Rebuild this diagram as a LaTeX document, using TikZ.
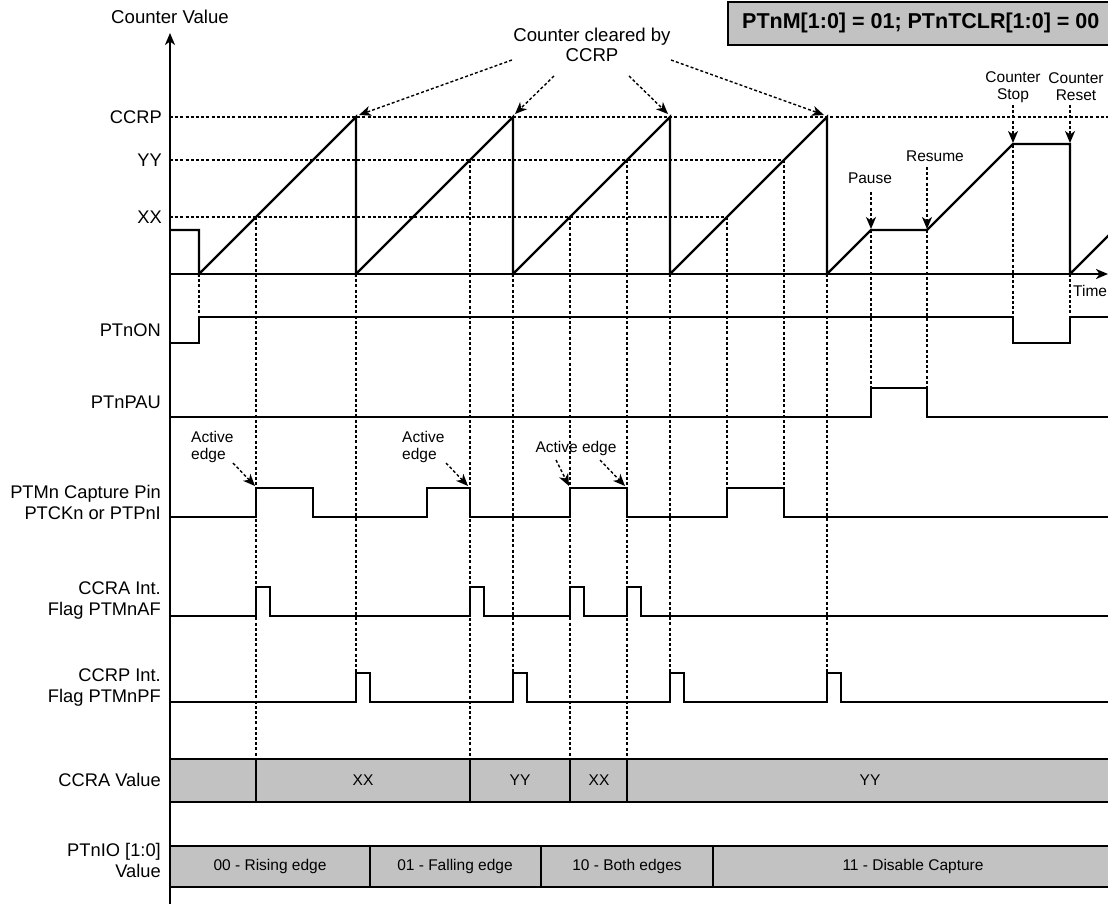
\documentclass[tikz,border=0pt]{standalone}
\usepackage{fontspec}
\setmainfont{Liberation Sans}
\usetikzlibrary{arrows.meta}
\definecolor{boxgray}{RGB}{194,194,194}
\begin{document}
\begin{tikzpicture}[x=1pt,y=-1pt,
  axisline/.style={line width=2pt},
  cnt/.style={line width=2.4pt, line join=miter},
  sig/.style={line width=1.7pt, line join=miter},
  dots/.style={line width=1.4pt, dash pattern=on 3pt off 2.2pt},
  tipped/.style={-{Stealth[length=12pt,width=10pt,inset=3.5pt]}},
  darrow/.style={dots, tipped},
  lab/.style={font=\fontsize{18.3}{21}\selectfont, anchor=east, align=right, inner sep=0pt},
  smalltxt/.style={font=\fontsize{15.5}{17}\selectfont, inner sep=0pt},
  bigtxt/.style={font=\fontsize{18.6}{20}\selectfont, inner sep=0pt, align=center},
  valbox/.style={fill=boxgray, line width=1.8pt},
]
\useasboundingbox (0,0) rectangle (1108,904);

% title box
\draw[fill=boxgray, line width=1.8pt] (728,2) rectangle (1120,45);
\node[anchor=west, inner sep=0pt, font=\fontsize{21.5}{24}\selectfont\bfseries] (title) at (742,23) {PTnM[1:0] = 01; PTnTCLR[1:0] = 00};

% axis label
\node[bigtxt] (cv) at (170,17) {Counter Value};

% level labels
\node[lab] (lccrp) at (162,117) {CCRP};
\node[lab] (lyy) at (162,160) {YY};
\node[lab] (lxx) at (162,217) {XX};

% horizontal dotted levels
\draw[dots] (170,117) -- (1108,117);
\draw[dots] (170,160) -- (784,160);
\draw[dots] (170,217) -- (727,217);

% vertical dotted guides
\draw[dots] (199,274) -- (199,317);
\draw[dots] (256,217) -- (256,759);
\draw[dots] (356,274) -- (356,673);
\draw[dots] (470,160) -- (470,759);
\draw[dots] (513,274) -- (513,673);
\draw[dots] (570,217) -- (570,759);
\draw[dots] (627,160) -- (627,759);
\draw[dots] (670,274) -- (670,673);
\draw[dots] (727,217) -- (727,488);
\draw[dots] (784,160) -- (784,488);
\draw[dots] (827,274) -- (827,673);
\draw[dots] (871,230) -- (871,388);
\draw[dots] (927,230) -- (927,388);
\draw[dots] (1013,145) -- (1013,317);
\draw[dots] (1070,274) -- (1070,317);

% axes
\draw[axisline, tipped] (170,904) -- (170,33);
\draw[axisline, tipped] (170,274) -- (1108,274);
\node[smalltxt, anchor=west] (time) at (1073,291) {Time};

% counter waveform
\draw[cnt] (170,230) -- (199,230) -- (199,274) -- (356,117) -- (356,274) -- (513,117) -- (513,274)
  -- (670,117) -- (670,274) -- (827,117) -- (827,274) -- (871,230) -- (927,230) -- (1013,144)
  -- (1070,144) -- (1070,274) -- (1120,224);

% counter cleared annotation
\node[bigtxt] (ccl) at (592,45) {Counter cleared by\\CCRP};
\draw[darrow] (512,60) -- (359,115);
\draw[darrow] (554,76) -- (515,114);
\draw[darrow] (629,76) -- (668,114);
\draw[darrow] (671,60) -- (824,115);

% pause / resume / stop / reset
\node[smalltxt] (pause) at (870,178) {Pause};
\draw[darrow] (871,192) -- (871,229);
\node[smalltxt] (resume) at (935,156) {Resume};
\draw[darrow] (927,167) -- (927,229);
\node[smalltxt, align=center] (cstop) at (1013,87) {Counter\\Stop};
\draw[darrow] (1013,105) -- (1013,143);
\node[smalltxt, align=center] (creset) at (1076,87) {Counter\\Reset};
\draw[darrow] (1070,105) -- (1070,143);

% PTnON
\node[lab] (lon) at (161,330) {PTnON};
\draw[sig] (170,343) -- (199,343) -- (199,317) -- (1013,317) -- (1013,343) -- (1070,343) -- (1070,317) -- (1108,317);

% PTnPAU
\node[lab] (lpau) at (161,402) {PTnPAU};
\draw[sig] (170,417) -- (871,417) -- (871,388) -- (927,388) -- (927,417) -- (1108,417);

% capture pin
\node[lab] (lcap) at (161,502) {PTMn Capture Pin\\PTCKn or PTPnI};
\draw[sig] (170,517) -- (256,517) -- (256,488) -- (313,488) -- (313,517) -- (427,517) -- (427,488)
  -- (470,488) -- (470,517) -- (570,517) -- (570,488) -- (627,488) -- (627,517) -- (727,517)
  -- (727,488) -- (784,488) -- (784,517) -- (1108,517);

% active edge annotations
\node[smalltxt, anchor=west, align=left] (ae1) at (191,447) {Active\\edge};
\draw[darrow] (233,463) -- (255,486);
\node[smalltxt, anchor=west, align=left] (ae2) at (402,447) {Active\\edge};
\draw[darrow] (446,463) -- (468,486);
\node[smalltxt] (ae3) at (576,448) {Active edge};
\draw[darrow] (556,460) -- (569,486);
\draw[darrow] (600,460) -- (625,486);

% CCRA flag
\node[lab] (lafl) at (161,601) {CCRA Int.\\Flag PTMnAF};
\draw[sig] (170,616) -- (256,616) -- (256,587) -- (270,587) -- (270,616) -- (470,616) -- (470,587)
  -- (484,587) -- (484,616) -- (570,616) -- (570,587) -- (584,587) -- (584,616) -- (627,616)
  -- (627,587) -- (641,587) -- (641,616) -- (1108,616);

% CCRP flag
\node[lab] (lpfl) at (161,688) {CCRP Int.\\Flag PTMnPF};
\draw[sig] (170,702) -- (356,702) -- (356,673) -- (370,673) -- (370,702) -- (513,702) -- (513,673)
  -- (527,673) -- (527,702) -- (670,702) -- (670,673) -- (684,673) -- (684,702) -- (827,702)
  -- (827,673) -- (841,673) -- (841,702) -- (1108,702);

% CCRA value
\node[lab] (lccra) at (161,780) {CCRA Value};
\draw[valbox] (170,759) rectangle (1120,802);
\draw[sig] (256,759) -- (256,802);
\draw[sig] (470,759) -- (470,802);
\draw[sig] (570,759) -- (570,802);
\draw[sig] (627,759) -- (627,802);
\node[smalltxt] (v1) at (363,780) {XX};
\node[smalltxt] (v2) at (520,780) {YY};
\node[smalltxt] (v3) at (599,780) {XX};
\node[smalltxt] (v4) at (870,780) {YY};

% PTnIO value
\node[lab] (lio) at (161,860) {PTnIO [1:0]\\Value};
\draw[valbox] (170,846) rectangle (1120,887);
\draw[sig] (370,846) -- (370,887);
\draw[sig] (541,846) -- (541,887);
\draw[sig] (713,846) -- (713,887);
\node[smalltxt] (io1) at (270,866) {00 - Rising edge};
\node[smalltxt] (io2) at (455,866) {01 - Falling edge};
\node[smalltxt] (io3) at (627,866) {10 - Both edges};
\node[smalltxt] (io4) at (913,866) {11 - Disable Capture};

% redraw axis over boxes
\draw[axisline] (170,740) -- (170,904);
\end{tikzpicture}
\end{document}
